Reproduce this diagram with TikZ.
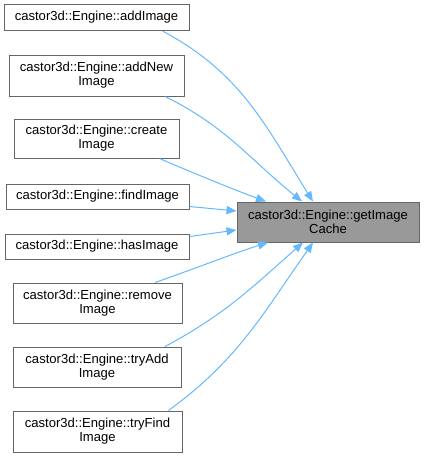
\documentclass[tikz,border=0pt]{standalone}
\usepackage{fontspec}
\setmainfont{Liberation Sans}
\usetikzlibrary{arrows.meta}
\definecolor{boxline}{HTML}{666666}
\definecolor{hlfill}{HTML}{999999}
\definecolor{edgeblue}{HTML}{63B8FF}
\newdimen\px \px=0.75pt
\begin{document}
\begin{tikzpicture}[x=0.75pt,y=-0.75pt,
  box/.style={draw=boxline, fill=white, line width=0.75pt, inner sep=0pt, align=center,
    font=\fontsize{9.8pt}{10.6pt}\selectfont},
  hl/.style={box, fill=hlfill},
  edge/.style={draw=edgeblue, line width=0.75pt, -{Triangle[length=7.5pt,width=6pt]}}]
\useasboundingbox (0,0) rectangle (424,457);
\node[box, minimum width=185\px, minimum height=26\px] (n1) at (96.5,17.5) {castor3d::Engine::addImage};
\node[box, minimum width=175\px, minimum height=41\px] (n2) at (96.5,75.5) {castor3d::Engine::addNew\\Image};
\node[box, minimum width=165\px, minimum height=39\px] (n3) at (96.5,138.5) {castor3d::Engine::create\\Image};
\node[box, minimum width=183\px, minimum height=25\px] (n4) at (97.5,196.5) {castor3d::Engine::findImage};
\node[box, minimum width=184\px, minimum height=25\px] (n5) at (97,246.5) {castor3d::Engine::hasImage};
\node[box, minimum width=169\px, minimum height=40\px] (n6) at (97.5,303) {castor3d::Engine::remove\\Image};
\node[box, minimum width=168\px, minimum height=40\px] (n7) at (97,367) {castor3d::Engine::tryAdd\\Image};
\node[box, minimum width=169\px, minimum height=41\px] (n8) at (97.5,431.5) {castor3d::Engine::tryFind\\Image};
\node[hl, minimum width=182\px, minimum height=40\px] (t) at (328,222) {castor3d::Engine::getImage\\Cache};
% start and end points on the node borders
\path (n1.south) ++(66,0) coordinate (s1);
\path (n2.south) ++(68.5,0) coordinate (s2);
\path (n3.south) ++(63,0) coordinate (s3);
\path (n4.east) ++(0,10) coordinate (s4);
\path (n5.east) ++(0,-10) coordinate (s5);
\path (n6.north) ++(57.5,0) coordinate (s6);
\path (n7.north) ++(68,0) coordinate (s7);
\path (n8.north) ++(71,0) coordinate (s8);
\path (t.north) ++(-15,0) coordinate (d1);
\path (t.north) ++(-26,0) coordinate (d2);
\path (t.north) ++(-62,0) coordinate (d3);
\path (t.west) ++(0,-11) coordinate (d4);
\path (t.west) ++(0,8) coordinate (d5);
\path (t.south) ++(-60,0) coordinate (d6);
\path (t.south) ++(-25,0) coordinate (d7);
\path (t.south) ++(-15,0) coordinate (d8);
\draw[edge] (s1) .. controls +(79,42) and +(-47,-75) .. (d1);
\draw[edge] (s2) .. controls +(61,30) and +(-53,-43) .. (d2);
\draw[edge] (s3) .. controls +(30,13) and +(-30,-11) .. (d3);
\draw[edge] (s4) -- (d4);
\draw[edge] (s5) -- (d5);
\draw[edge] (s6) .. controls +(35,-12) and +(-35,11) .. (d6);
\draw[edge] (s7) .. controls +(60,-32) and +(-51,45) .. (d7);
\draw[edge] (s8) .. controls +(70,-51) and +(-50,71) .. (d8);
\end{tikzpicture}
\end{document}
